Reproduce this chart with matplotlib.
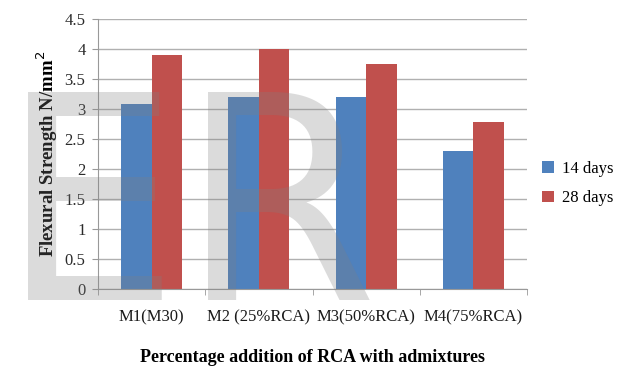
import matplotlib
matplotlib.use("Agg")
import matplotlib.pyplot as plt
import numpy as np

categories = ["M1(M30)", "M2 (25%RCA)", "M3(50%RCA)", "M4(75%RCA)"]
days14 = [3.08, 3.2, 3.2, 2.3]
days28 = [3.9, 4.0, 3.75, 2.78]
series_names = ["14 days", "28 days"]
yticks = [0, 0.5, 1, 1.5, 2, 2.5, 3, 3.5, 4, 4.5]
ytick_labels = ["0", "0.5", "1", "1.5", "2", "2.5", "3", "3.5", "4", "4.5"]

plt.rcParams['font.family'] = ['Liberation Serif', 'DejaVu Serif']

fig = plt.figure(figsize=(6.21, 3.66), dpi=100)
ax = fig.add_axes([98/621, 1-289/366, (527-98)/621, 270/366])

x = np.arange(len(categories))
w = 0.285
blue = "#4F81BD"
red = "#C0504D"
ax.bar(x - w/2, days14, w, color=blue, label=series_names[0], zorder=2)
ax.bar(x + w/2, days28, w, color=red, label=series_names[1], zorder=2)

ax.set_xlim(-0.5, len(categories) - 0.5)
ax.set_ylim(0, 4.5)
ax.set_yticks(yticks)
ax.set_yticklabels(ytick_labels, fontsize=12, color="#2a2a2a")
ax.set_xticks(x)
ax.set_xticklabels(categories, fontsize=12, color="#1a1a1a")
ax.set_xticks(np.arange(len(categories) + 1) - 0.5, minor=True)
ax.tick_params(axis='x', which='major', length=0, pad=15)
ax.tick_params(axis='x', which='minor', length=4, color="#999999")
ax.tick_params(axis='y', length=4, color="#999999", pad=5)
ax.yaxis.grid(True, color="#b0b0b0", linewidth=1, zorder=0)
ax.set_axisbelow(True)
for s in ["top", "right"]:
    ax.spines[s].set_visible(False)
ax.spines["left"].set_color("#999999")
ax.spines["bottom"].set_color("#999999")

ax.set_ylabel("Flexural Strength N/mm$^2$", fontsize=13.5, fontweight="bold", labelpad=3)
ax.set_xlabel("Percentage addition of RCA with admixtures", fontsize=13,
              fontweight="bold", labelpad=17)

ax.legend(loc="center left", bbox_to_anchor=(1.0, 0.39), frameon=False,
          fontsize=12, handlelength=0.7, handleheight=0.7, handletextpad=0.5,
          labelspacing=0.8)

fig.text(0.0, 1-300/366, "ER", fontsize=205, color="#808080", alpha=0.28,
         family="DejaVu Sans", ha="left", va="baseline", zorder=10)

fig.savefig("out.png", dpi=100)
